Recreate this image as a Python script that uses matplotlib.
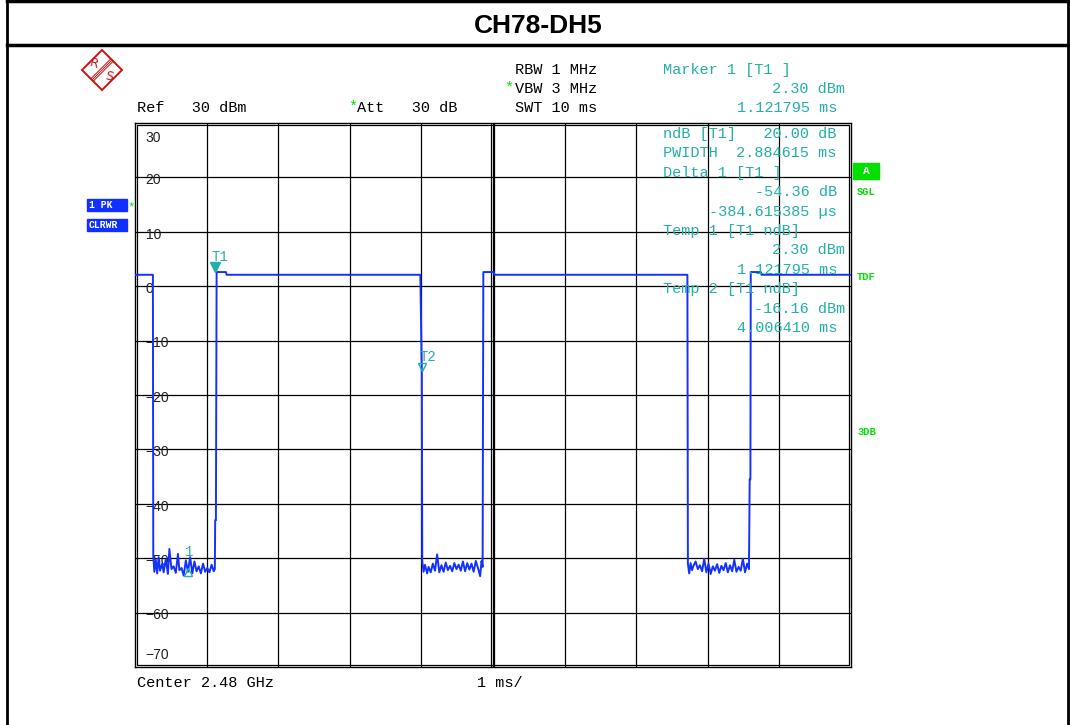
import matplotlib
matplotlib.use("Agg")
import matplotlib.pyplot as plt
from matplotlib.lines import Line2D
from matplotlib.patches import Polygon, Rectangle

# -----------------------------------------------------------------
# chart data
# -----------------------------------------------------------------
TITLE = "CH78-DH5"

# trace: time in ms, level in dBm (on-level edges and hand-read noise floor)
t_on1 = [0.00, 0.25]
lvl_on1 = [2.1, 2.1]

t_off1 = [0.255, 0.27, 0.29, 0.31, 0.33, 0.35, 0.38, 0.40, 0.43, 0.46, 0.48,
          0.51, 0.54, 0.57, 0.60, 0.62, 0.65, 0.68, 0.71, 0.74, 0.77, 0.80,
          0.83, 0.86, 0.89, 0.92, 0.95, 0.98, 1.01, 1.04, 1.07, 1.10, 1.115]
lvl_off1 = [-49.5, -52.5, -50.3, -52.8, -49.8, -52.3, -51.0, -52.6, -50.2,
            -52.9, -48.3, -52.0, -51.5, -52.7, -49.2, -52.2, -51.8, -53.2,
            -50.4, -52.5, -49.8, -52.8, -50.6, -52.4, -51.5, -52.8, -51.0,
            -52.5, -51.8, -52.6, -51.2, -52.4, -52.0]

t_on2 = [1.12, 1.13, 1.14, 1.27, 1.28, 3.985]
lvl_on2 = [-43.0, -43.0, 2.6, 2.6, 2.1, 2.1]

t_off2 = [4.006, 4.012, 4.03, 4.05, 4.08, 4.10, 4.13, 4.16, 4.19, 4.22, 4.25,
          4.28, 4.31, 4.34, 4.37, 4.40, 4.43, 4.46, 4.49, 4.52, 4.55, 4.58,
          4.61, 4.64, 4.67, 4.70, 4.73, 4.76, 4.79, 4.82, 4.84, 4.855]
lvl_off2 = [-16.16, -50.6, -52.5, -51.2, -52.8, -51.6, -52.6, -51.0, -52.3,
            -49.3, -52.6, -51.3, -52.5, -50.8, -52.2, -51.4, -52.4, -50.9,
            -52.0, -51.2, -52.3, -50.6, -52.4, -50.9, -52.1, -51.0, -52.5,
            -50.5, -51.8, -53.3, -50.5, -51.6]

t_on3 = [4.865, 4.88, 5.01, 5.02, 7.715]
lvl_on3 = [2.6, 2.6, 2.6, 2.1, 2.1]

t_off3 = [7.722, 7.74, 7.76, 7.78, 7.80, 7.83, 7.86, 7.89, 7.92, 7.95, 7.98,
          8.01, 8.04, 8.07, 8.10, 8.13, 8.16, 8.19, 8.22, 8.25, 8.28, 8.31,
          8.34, 8.37, 8.40, 8.43, 8.46, 8.49, 8.52, 8.55, 8.575]
lvl_off3 = [-51.0, -52.8, -50.9, -52.2, -51.4, -50.6, -52.0, -51.3, -52.4,
            -50.1, -52.6, -51.0, -52.9, -51.5, -52.3, -51.1, -52.7, -51.4,
            -52.2, -50.9, -52.6, -51.3, -52.4, -50.3, -52.5, -51.6, -52.3,
            -50.1, -52.6, -51.0, -52.0]

t_on4 = [8.585, 8.595, 8.60, 8.74, 8.75, 10.0]
lvl_on4 = [-35.5, -35.5, 2.6, 2.6, 2.1, 2.1]

# markers
t1_pos = (1.121795, 2.30)
t2_pos = (4.006410, -16.16)
d1_pos = (0.737, -52.06)

# axis setup
x_ticks = [0, 1, 2, 3, 4, 5, 6, 7, 8, 9, 10]
y_ticks = [30, 20, 10, 0, -10, -20, -30, -40, -50, -60, -70]
y_labels = ["30", "20", "10", "0", "\u221210", "\u221220", "\u221230",
            "\u221240", "\u221250", "\u221260", "\u221270"]

# marker readout block (inside the grid, right side)
readout_left = ["ndB [T1]   20.00 dB", "PWIDTH  2.884615 ms", "Delta 1 [T1 ]",
                None, None, "Temp 1 [T1 ndB]", None, None, "Temp 2 [T1 ndB]",
                None, None]
readout_right = [None, None, None, "-54.36 dB", "-384.615385 \u00b5s", None,
                 "2.30 dBm", "1.121795 ms", None, "-16.16 dBm", "4.006410 ms"]

TEAL = "#22b0a8"
BLUE = "#1432ff"
GREEN = "#00e000"
RED = "#d01010"
MONO = "Liberation Mono"

W, H = 1070, 725


def px(x, y):
    # pixel coords (top-left origin) -> figure fraction
    return x / W, 1 - y / H


fig = plt.figure(figsize=(W / 100, H / 100), dpi=100)

# outer frame and title box
for (x0, y0, x1, y1, lw) in [(7, 1, 1068, 1, 2.5), (7, 45, 1068, 45, 2.5),
                             (7, 0, 7, 725, 2.0), (1068, 0, 1068, 725, 2.0)]:
    a, b = px(x0, y0)
    c, d = px(x1, y1)
    fig.add_artist(Line2D([a, c], [b, d], color="black", lw=lw))
fig.text(*px(538, 26), TITLE, ha="center", va="center", fontsize=19,
         fontweight="bold", family="Liberation Sans")

# main grid axes
l, top = px(135, 123)
r, bot = px(851, 667)
ax = fig.add_axes([l, bot, r - l, top - bot])
ax.set_xlim(0, 10)
ax.set_ylim(-70, 30)
ax.set_xticks([])
ax.set_yticks([])
for s in ax.spines.values():
    s.set_linewidth(1.0)

for xv in x_ticks[1:-1]:
    ax.axvline(xv, color="black", lw=0.9, zorder=1)
for yv in y_ticks[1:-1]:
    ax.axhline(yv, color="black", lw=0.9, zorder=1)
# double lines: center, and inner frame
ax.axvline(4.97, color="black", lw=0.9, zorder=1)
ax.axvline(5.02, color="black", lw=0.9, zorder=1)
ax.add_patch(Rectangle((0.003, 0.004), 0.994, 0.992, transform=ax.transAxes,
                       fill=False, lw=0.9, ec="black", zorder=1))

for yv, lab in zip(y_ticks, y_labels):
    yy = yv - 0.5
    if yv == 30:
        yy = 27.2
    if yv == -70:
        yy = -67.8
    ax.text(0.15, yy, lab, ha="left", va="center", fontsize=10,
            family="Liberation Sans", color="#222222", zorder=2)

# trace
t_all = t_on1 + t_off1 + t_on2 + t_off2 + t_on3 + t_off3 + t_on4
lvl_all = lvl_on1 + lvl_off1 + lvl_on2 + lvl_off2 + lvl_on3 + lvl_off3 + lvl_on4
ax.plot(t_all, lvl_all, color=BLUE, lw=1.4, zorder=4)

# markers
ax.plot(t1_pos[0], t1_pos[1] + 1.3, marker="v", ms=7, color=TEAL, zorder=5)
ax.text(t1_pos[0] - 0.06, t1_pos[1] + 3.0, "T1", color=TEAL, fontsize=10,
        family=MONO, va="center", ha="left", zorder=5)
ax.plot(t2_pos[0], t2_pos[1] + 1.3, marker="v", ms=6, mfc="none", mec=TEAL,
        mew=1.0, zorder=5)
ax.text(t2_pos[0] - 0.03, t2_pos[1] + 3.2, "T2", color=TEAL, fontsize=10,
        family=MONO, va="center", ha="left", zorder=5)
ax.plot(d1_pos[0], d1_pos[1] - 0.4, marker="^", ms=6, mfc="none", mec=TEAL,
        mew=1.0, zorder=5)
ax.text(d1_pos[0] - 0.04, d1_pos[1] + 3.2, "1", color=TEAL, fontsize=10,
        family=MONO, va="center", ha="left", zorder=5)

# marker readout inside grid
for i, (lt, rt) in enumerate(zip(readout_left, readout_right)):
    y = 134 + i * 19.4
    if lt:
        fig.text(*px(663, y), lt, color=TEAL, fontsize=11, family=MONO,
                 ha="left", va="center")
    if rt:
        xr = 845 if "dBm" in rt else 837
        fig.text(*px(xr, y), rt, color=TEAL, fontsize=11, family=MONO,
                 ha="right", va="center")

# header settings
fig.text(*px(137, 108), "Ref   30 dBm", fontsize=11, family=MONO, va="center")
fig.text(*px(348, 107), "*", fontsize=11, family=MONO, va="center", color=GREEN)
fig.text(*px(357, 108), "Att   30 dB", fontsize=11, family=MONO, va="center")
fig.text(*px(515, 70), "RBW 1 MHz", fontsize=11, family=MONO, va="center")
fig.text(*px(504, 88), "*", fontsize=11, family=MONO, va="center", color=GREEN)
fig.text(*px(515, 89), "VBW 3 MHz", fontsize=11, family=MONO, va="center")
fig.text(*px(515, 108), "SWT 10 ms", fontsize=11, family=MONO, va="center")
fig.text(*px(663, 70), "Marker 1 [T1 ]", fontsize=11, family=MONO, va="center",
         color=TEAL)
fig.text(*px(845, 89), "2.30 dBm", fontsize=11, family=MONO, va="center",
         ha="right", color=TEAL)
fig.text(*px(837, 108), "1.121795 ms", fontsize=11, family=MONO, va="center",
         ha="right", color=TEAL)

# footer
fig.text(*px(137, 683), "Center 2.48 GHz", fontsize=11, family=MONO, va="center")
fig.text(*px(477, 683), "1 ms/", fontsize=11, family=MONO, va="center")

# left trace-mode boxes
for (y, lab) in [(205, "1 PK"), (225, "CLRWR")]:
    a, b = px(87, y + 6)
    fig.add_artist(Rectangle((a, b), 40 / W, 12 / H, color="#1030ff"))
    fig.text(*px(89, y), lab, fontsize=7, family=MONO, fontweight="bold",
             color="white", va="center")
fig.text(*px(127, 207), "*", fontsize=9, family=MONO, color=GREEN, va="center")

# right status flags
a, b = px(853, 179)
fig.add_artist(Rectangle((a, b), 26 / W, 16 / H, color=GREEN))
fig.text(*px(866, 171), "A", fontsize=8, family=MONO, fontweight="bold",
         color="white", va="center", ha="center")
for (y, lab) in [(192, "SGL"), (277, "TDF"), (432, "3DB")]:
    fig.text(*px(857, y), lab, fontsize=7.5, family=MONO, fontweight="bold",
             color=GREEN, va="center")

# R&S logo
cx, cy, hs = 102, 70, 20
pts = [px(cx, cy - hs), px(cx + hs, cy), px(cx, cy + hs), px(cx - hs, cy)]
fig.add_artist(Polygon(pts, closed=True, fill=False, ec=RED, lw=1.4))
for off in (-1.2, 0, 1.2):
    a = px(cx + 10 + off, cy - 10 + off)
    c = px(cx - 10 + off, cy + 10 + off)
    fig.add_artist(Line2D([a[0], c[0]], [a[1], c[1]], color=RED, lw=0.7))
fig.text(*px(94, 64), "R", fontsize=9, color=RED, ha="center",
         va="center", rotation=-15)
fig.text(*px(109, 77), "S", fontsize=9, color=RED, ha="center",
         va="center", rotation=-15)

fig.savefig("out.png", dpi=100)
